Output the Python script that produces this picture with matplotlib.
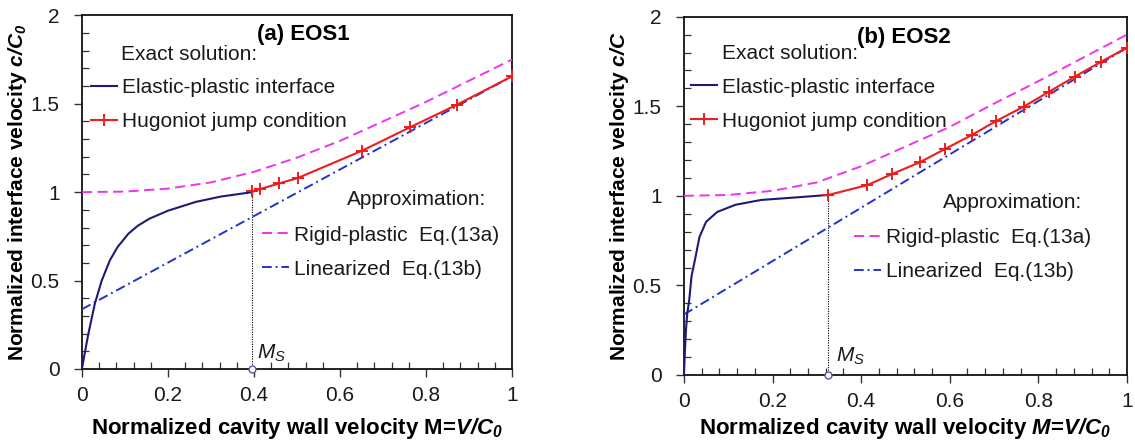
import matplotlib
matplotlib.use("Agg")
import matplotlib.pyplot as plt
from matplotlib.ticker import MultipleLocator, FixedLocator

plt.rcParams['font.family'] = ['Liberation Sans', 'DejaVu Sans']
plt.rcParams['mathtext.fontset'] = 'custom'
plt.rcParams['mathtext.rm'] = 'Liberation Sans'
plt.rcParams['mathtext.it'] = 'Liberation Sans:italic'
plt.rcParams['mathtext.bf'] = 'Liberation Sans:bold'
plt.rcParams['mathtext.bfit'] = 'Liberation Sans:italic:bold'

# ---------------- data: (a) EOS1 ----------------
a_ep_x = [0, 0.005, 0.015, 0.03, 0.046, 0.065, 0.083, 0.108, 0.13, 0.157, 0.2, 0.265, 0.323, 0.396]
a_ep_y = [0, 0.07, 0.20, 0.37, 0.50, 0.615, 0.69, 0.765, 0.81, 0.85, 0.895, 0.945, 0.975, 1.0]
a_hug_x = [0.396, 0.414, 0.458, 0.502, 0.652, 0.763, 0.871, 1.0]
a_hug_y = [1.004, 1.017, 1.049, 1.08, 1.235, 1.367, 1.493, 1.655]
a_rig_x = [0, 0.1, 0.2, 0.3, 0.4, 0.5, 0.6, 0.7, 0.8, 0.9, 1.0]
a_rig_y = [1.0, 1.003, 1.02, 1.055, 1.115, 1.195, 1.29, 1.40, 1.51, 1.63, 1.75]
a_lin_x = [0, 1.0]
a_lin_y = [0.338, 1.655]
a_ms = 0.396

# ---------------- data: (b) EOS2 ----------------
b_ep_x = [0, 0.0023, 0.0045, 0.0075, 0.012, 0.017, 0.025, 0.035, 0.05, 0.075, 0.116, 0.174, 0.257, 0.326]
b_ep_y = [0, 0.14, 0.25, 0.344, 0.42, 0.55, 0.645, 0.77, 0.855, 0.91, 0.95, 0.977, 0.992, 1.005]
b_hug_x = [0.326, 0.414, 0.470, 0.532, 0.589, 0.650, 0.705, 0.767, 0.824, 0.882, 0.942, 1.0]
b_hug_y = [1.005, 1.06, 1.122, 1.187, 1.261, 1.34, 1.418, 1.498, 1.581, 1.665, 1.749, 1.827]
b_rig_x = [0, 0.1, 0.2, 0.3, 0.4, 0.5, 0.6, 0.7, 0.8, 0.9, 1.0]
b_rig_y = [1.0, 1.005, 1.028, 1.075, 1.165, 1.275, 1.385, 1.515, 1.64, 1.77, 1.90]
b_lin_x = [0, 1.0]
b_lin_y = [0.338, 1.827]
b_ms = 0.326

x_ticks = [0, 0.2, 0.4, 0.6, 0.8, 1.0]
x_ticklabels = ['0', '0.2', '0.4', '0.6', '0.8', '1']
y_ticks = [0, 0.5, 1.0, 1.5, 2.0]
y_ticklabels = ['0', '0.5', '1', '1.5', '2']

labels_exact = ['Elastic-plastic interface', 'Hugoniot jump condition']
labels_approx = ['Rigid-plastic  Eq.(13a)', 'Linearized  Eq.(13b)']

C_EP = '#1c1c78'
C_HUG = '#ee1c1c'
C_RIG = '#ee33ee'
C_LIN = '#2233cc'
TXT = '#1a1a1a'

fig = plt.figure(figsize=(11.35, 4.42), dpi=100)
axA = fig.add_axes([0.0722, 0.1652, 0.3789, 0.8002])
axB = fig.add_axes([0.6026, 0.1516, 0.3903, 0.8106])


def draw(ax, ep_x, ep_y, hug_x, hug_y, rig_x, rig_y, lin_x, lin_y, ms,
         title, title_xy, exact_xy, approx_xy, leg1_anchor, leg2_anchor,
         ms_lab_xy, xlabel, ylabel, xlabelpad):
    l_ep, = ax.plot(ep_x, ep_y, color=C_EP, lw=1.5, zorder=4)
    l_hug, = ax.plot(hug_x, hug_y, color=C_HUG, lw=1.5, marker='+', ms=9, mew=1.4, zorder=5)
    l_rig, = ax.plot(rig_x, rig_y, color=C_RIG, lw=1.4, dashes=(5.2, 2.8), zorder=3)
    l_lin, = ax.plot(lin_x, lin_y, color=C_LIN, lw=1.4, dashes=(5, 2, 1, 2), zorder=3)
    ax.plot([ms, ms], [0, hug_y[0]], color='black', lw=0.8, ls=(0, (1, 1.2)), zorder=2)
    ax.plot([ms], [0], marker='o', ms=5, mfc='white', mec='#5555aa', mew=1.0,
            clip_on=False, zorder=6)
    ax.text(ms_lab_xy[0], ms_lab_xy[1], r'$M_S$', fontsize=15, color=TXT, va='bottom', ha='left')

    ax.set_xlim(0, 1)
    ax.set_ylim(0, 2)
    ax.xaxis.set_major_locator(FixedLocator(x_ticks))
    ax.set_xticklabels(x_ticklabels)
    ax.yaxis.set_major_locator(FixedLocator(y_ticks))
    ax.set_yticklabels(y_ticklabels)
    ax.xaxis.set_minor_locator(MultipleLocator(0.04))
    ax.yaxis.set_minor_locator(MultipleLocator(0.1))
    ax.tick_params(which='major', direction='out', length=6, width=1.0, labelsize=15,
                   labelcolor=TXT, color='#333333')
    ax.tick_params(axis='x', which='major', pad=6)
    ax.tick_params(axis='y', which='major', pad=10)
    ax.tick_params(which='minor', direction='in', length=5, width=0.9, color='#333333')
    for s in ax.spines.values():
        s.set_linewidth(1.3)
        s.set_color('#111111')

    ax.set_xlabel(xlabel, fontsize=16, fontweight='bold', labelpad=xlabelpad, color='black')
    ax.set_ylabel(ylabel, fontsize=15, fontweight='bold', labelpad=1, color='black')

    ax.text(title_xy[0], title_xy[1], title, fontsize=16, fontweight='bold',
            ha='left', va='center', color='black')
    ax.text(exact_xy[0], exact_xy[1], 'Exact solution:', fontsize=15, ha='left', va='center', color=TXT)
    ax.text(approx_xy[0], approx_xy[1], 'Approximation:', fontsize=15, ha='left', va='center', color=TXT)

    leg1 = ax.legend([l_ep, l_hug], labels_exact, loc='upper left', bbox_to_anchor=leg1_anchor,
                     bbox_transform=ax.transAxes, frameon=False, fontsize=15, handlelength=1.25,
                     handletextpad=0.25, labelspacing=0.72, borderpad=0, borderaxespad=0)
    for t in leg1.get_texts():
        t.set_color(TXT)
    ax.add_artist(leg1)
    leg2 = ax.legend([l_rig, l_lin], labels_approx, loc='upper left', bbox_to_anchor=leg2_anchor,
                     bbox_transform=ax.transAxes, frameon=False, fontsize=15, handlelength=1.3,
                     handletextpad=0.25, labelspacing=0.72, borderpad=0, borderaxespad=0)
    for t in leg2.get_texts():
        t.set_color(TXT)


draw(axA, a_ep_x, a_ep_y, a_hug_x, a_hug_y, a_rig_x, a_rig_y, a_lin_x, a_lin_y, a_ms,
     '(a) EOS1', (0.406, 1.89), (0.091, 1.777), (0.617, 0.96),
     (0.02, 0.823), (0.418, 0.405), (a_ms + 0.012, 0.03),
     r'Normalized cavity wall velocity M=$\mathbfit{V/C_0}$',
     r'Normalized interface velocity $\mathbfit{c/C_0}$', 8)

draw(axB, b_ep_x, b_ep_y, b_hug_x, b_hug_y, b_rig_x, b_rig_y, b_lin_x, b_lin_y, b_ms,
     '(b) EOS2', (0.39, 1.885), (0.085, 1.795), (0.584, 0.962),
     (0.015, 0.83), (0.383, 0.409), (b_ms + 0.018, 0.045),
     r'Normalized cavity wall velocity $\mathbfit{M}$=$\mathbfit{V/C_0}$',
     r'Normalized interface velocity $\mathbfit{c/C}$', 4)

fig.savefig('out.png', dpi=100)
